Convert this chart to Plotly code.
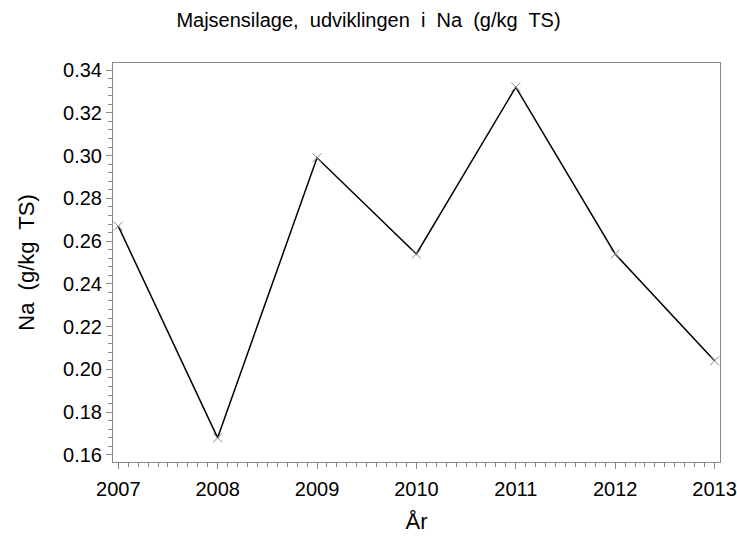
import plotly.graph_objects as go

years = [2007, 2008, 2009, 2010, 2011, 2012, 2013]
na_values = [0.267, 0.168, 0.299, 0.254, 0.332, 0.254, 0.204]
y_tick_vals = [0.16, 0.18, 0.20, 0.22, 0.24, 0.26, 0.28, 0.30, 0.32, 0.34]

fig = go.Figure()
fig.add_trace(go.Scatter(
    x=years, y=na_values, mode="lines+markers",
    line=dict(color="black", width=1.5),
    marker=dict(symbol="x-thin", size=9, line=dict(color="#888888", width=1)),
    showlegend=False,
    hoverinfo="skip",
))

font = "Liberation Sans, Arial, sans-serif"
W, H = 737, 537
fig.update_layout(
    width=W, height=H, autosize=False,
    margin=dict(l=113, r=17, t=63, b=75),
    paper_bgcolor="white", plot_bgcolor="white",
    font=dict(family=font, color="black"),
    title=dict(text="Majsensilage,  udviklingen  i  Na  (g/kg  TS)", x=0.5, xanchor="center",
               y=1 - 20 / H, yanchor="middle", font=dict(size=20, family=font)),
)
fig.update_xaxes(
    range=[2006.947, 2013.055], tickmode="array", tickvals=years,
    ticktext=[str(y) for y in years],
    showgrid=False, zeroline=False, automargin=False,
    showline=True, linecolor="#888888", linewidth=1, mirror=True,
    ticks="outside", ticklen=6, tickcolor="#888888", tickwidth=1,
    tickfont=dict(size=20), ticklabelstandoff=3,
    minor=dict(dtick=0.1, tick0=2007, ticks="outside", ticklen=4, tickcolor="#888888", showgrid=False),
    title=dict(text="År", font=dict(size=22), standoff=14),
)
fig.update_yaxes(
    range=[0.1567, 0.3433], tickmode="array", tickvals=y_tick_vals,
    ticktext=[f"{v:.2f}" for v in y_tick_vals],
    showgrid=False, zeroline=False, automargin=False,
    showline=True, linecolor="#888888", linewidth=1, mirror=True,
    ticks="outside", ticklen=6, tickcolor="#888888", tickwidth=1,
    tickfont=dict(size=20),
    minor=dict(dtick=0.004, tick0=0.16, ticks="outside", ticklen=4, tickcolor="#888888", showgrid=False),
    title=dict(text="Na  (g/kg  TS)", font=dict(size=22), standoff=22),
)

fig.write_html(
    "out.html",
    config={"responsive": False, "displayModeBar": False},
    post_script="document.body.style.margin='0';document.body.style.overflow='hidden';",
)
